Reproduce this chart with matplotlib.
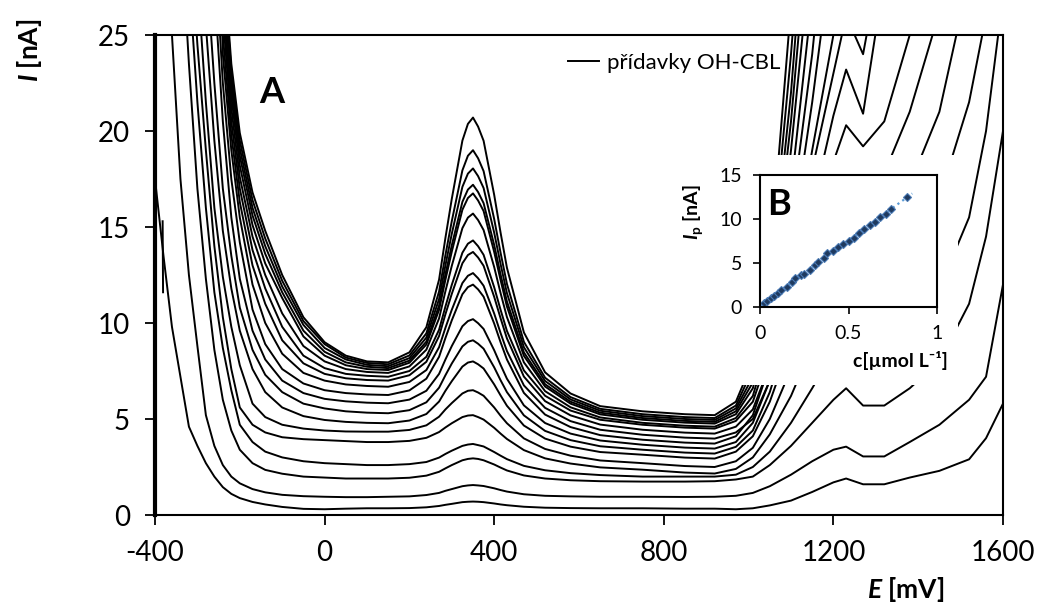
import numpy as np
import matplotlib
matplotlib.use('Agg')
import matplotlib.pyplot as plt
from matplotlib.patches import Rectangle

plt.rcParams['font.family'] = ['Lato', 'DejaVu Sans']
plt.rcParams['axes.unicode_minus'] = False
plt.rcParams['mathtext.fontset'] = 'custom'
plt.rcParams['mathtext.rm'] = 'Lato'
plt.rcParams['mathtext.it'] = 'Lato:italic'
plt.rcParams['mathtext.bf'] = 'Lato:bold'
plt.rcParams['mathtext.bfit'] = 'Lato:italic:bold'

OFF = 40.0  # above the y range, clipped away

# potential [mV] at which the scans were read
E = [-400, -380, -360, -340, -320, -300, -280, -260, -240, -220,
     -200, -170, -140, -100, -50, 0, 50, 100, 150, 200,
     240, 270, 285, 300, 325, 338, 350, 362, 375, 400, 415, 430, 470, 520,
     580, 650, 750, 850, 920, 970, 1010, 1050, 1100, 1150,
     1200, 1230, 1270, 1320, 1380, 1450, 1520, 1560, 1600]

# current [nA], blank first, then the OH-CBL additions
scan_00 = [17.5, 13.5, 9.8, 7.2, 4.6, 3.6, 2.7, 2.0, 1.45, 1.1,
           0.88, 0.68, 0.55, 0.42, 0.32, 0.30, 0.33, 0.35, 0.35, 0.36,
           0.40, 0.47, 0.53, 0.58, 0.67, 0.69, 0.70, 0.69, 0.67, 0.60, 0.55, 0.51, 0.43, 0.38,
           0.36, 0.35, 0.35, 0.33, 0.33, 0.30, 0.35, 0.50, 0.75, 1.2,
           1.7, 1.9, 1.6, 1.6, 1.95, 2.3, 2.9, 4.0, 5.8]
scan_01 = [OFF, 33, 25, 17.5, 12.5, 8.8, 5.2, 3.6, 2.6, 2.0,
           1.65, 1.35, 1.18, 1.05, 0.98, 0.95, 0.93, 0.93, 0.95, 0.97,
           1.04, 1.15, 1.26, 1.35, 1.5, 1.54, 1.56, 1.54, 1.51, 1.39, 1.30, 1.22, 1.08, 1.0,
           0.97, 0.95, 0.95, 0.94, 0.95, 1.0, 1.15, 1.5, 2.1, 2.8,
           3.4, 3.56, 3.05, 3.05, 3.8, 4.7, 6.0, 7.2, 12.0]
scan_02 = [OFF, OFF, OFF, 31, 23.5, 17, 12.3, 8.6, 6.0, 4.4,
           3.4, 2.7, 2.35, 2.15, 2.0, 1.95, 1.9, 1.9, 1.9, 1.94,
           2.05, 2.25, 2.43, 2.6, 2.85, 2.92, 2.95, 2.92, 2.85, 2.63, 2.47, 2.32, 2.06, 1.9,
           1.81, 1.76, 1.74, 1.74, 1.76, 1.85, 2.0, 2.6, 3.6, 4.8,
           6.0, 6.6, 5.7, 5.7, 6.6, 8.0, 11.0, 14.5, 20.0]
scan_03 = [OFF, OFF, OFF, OFF, 28, 21.5, 16, 11.6, 8.7, 6.5,
           4.7, 3.8, 3.3, 3.0, 2.8, 2.7, 2.65, 2.6, 2.6, 2.65,
           2.76, 2.99, 3.18, 3.35, 3.6, 3.67, 3.7, 3.64, 3.57, 3.28, 3.09, 2.91, 2.56, 2.33,
           2.18, 2.08, 2.0, 2.0, 2.0, 2.1, 2.5, 3.3, 4.8, 6.6,
           8.5, 9.2, 8.4, 8.5, 9.8, 11.8, 15.5, 20.0, 27.0]
scan_04 = [OFF, OFF, OFF, OFF, 31, 24.5, 19, 14, 10.3, 7.6,
           5.6, 4.7, 4.3, 4.05, 3.95, 3.9, 3.85, 3.8, 3.8, 3.86,
           4.02, 4.32, 4.56, 4.78, 5.1, 5.18, 5.2, 5.1, 4.97, 4.54, 4.24, 3.96, 3.38, 2.95,
           2.68, 2.48, 2.36, 2.21, 2.16, 2.4, 3.0, 4.2, 6.2, 8.8,
           11.3, 12.2, 11.4, 11.8, 13.5, 16.5, 21.5, 26.0, OFF]
scan_05 = [OFF, OFF, OFF, OFF, OFF, 28, 21.5, 16, 12.4, 9.8,
           7.8, 5.8, 5.1, 4.7, 4.5, 4.4, 4.35, 4.34, 4.34, 4.43,
           4.67, 5.12, 5.5, 5.83, 6.33, 6.47, 6.5, 6.38, 6.21, 5.6, 5.17, 4.78, 3.99, 3.44,
           3.09, 2.84, 2.7, 2.55, 2.5, 2.8, 3.5, 5.0, 7.6, 10.8,
           13.8, 15.0, 14.2, 14.8, 17.2, 21.0, 28.0, OFF, OFF]
scan_06 = [OFF, OFF, OFF, OFF, OFF, OFF, 25.5, 19.5, 14.8, 11.8,
           9.6, 7.6, 6.4, 5.6, 5.15, 4.95, 4.85, 4.8, 4.78, 4.92,
           5.26, 5.91, 6.47, 6.97, 7.73, 7.94, 8.0, 7.85, 7.63, 6.8, 6.23, 5.69, 4.66, 3.98,
           3.56, 3.28, 3.14, 2.99, 2.94, 3.3, 4.1, 5.9, 9.0, 12.8,
           16.3, 17.8, 17.0, 17.8, 21.0, 26.2, OFF, OFF, OFF]
scan_07 = [OFF, OFF, OFF, OFF, OFF, OFF, 29, 22.5, 17, 13.5,
           10.8, 8.6, 7.3, 6.4, 5.8, 5.55, 5.4, 5.33, 5.3, 5.46,
           5.87, 6.63, 7.28, 7.89, 8.78, 9.02, 9.1, 8.92, 8.66, 7.69, 7.02, 6.4, 5.19, 4.38,
           3.9, 3.58, 3.4, 3.25, 3.2, 3.55, 4.4, 6.4, 10.0, 14.3,
           18.4, 20.3, 19.2, 20.5, 25.0, 31.0, OFF, OFF, OFF]
scan_08 = [OFF, OFF, OFF, OFF, OFF, OFF, OFF, 27.5, 20.5, 15.5,
           12.3, 9.6, 8.1, 7.0, 6.35, 6.05, 5.92, 5.85, 5.82, 6.01,
           6.47, 7.35, 8.1, 8.8, 9.83, 10.1, 10.2, 9.99, 9.69, 8.58, 7.82, 7.1, 5.71, 4.79,
           4.24, 3.88, 3.66, 3.51, 3.46, 3.8, 4.8, 7.0, 11.2, 16.0,
           20.8, 23.2, 20.9, 28.0, OFF, OFF, OFF, OFF, OFF]
scan_09 = [OFF, OFF, OFF, OFF, OFF, OFF, OFF, 30, 22.5, 17.5,
           14.2, 10.7, 8.9, 7.6, 6.85, 6.5, 6.35, 6.28, 6.25, 6.49,
           7.1, 8.24, 9.22, 10.14, 11.5, 11.87, 12.0, 11.75, 11.37, 9.97, 9.0, 8.1, 6.36, 5.23,
           4.58, 4.16, 3.92, 3.77, 3.72, 4.1, 5.2, 7.8, 12.5, 18.0,
           23.0, 26.0, 24.0, 30.0, OFF, OFF, OFF, OFF, OFF]
scan_10 = [OFF, OFF, OFF, OFF, OFF, OFF, OFF, OFF, 24, 19,
           15.5, 12.0, 10.0, 8.4, 7.4, 7.0, 6.8, 6.72, 6.68, 6.93,
           7.55, 8.74, 9.75, 10.69, 12.08, 12.46, 12.6, 12.33, 11.94, 10.49, 9.48, 8.54, 6.75, 5.58,
           4.89, 4.44, 4.18, 4.03, 3.98, 4.3, 5.0, 7.0, 12.5, 19.0,
           25.0, 30.0, OFF, OFF, OFF, OFF, OFF, OFF, OFF]
scan_11 = [OFF, OFF, OFF, OFF, OFF, OFF, OFF, OFF, 25, 19.8,
           16.3, 13.0, 11.0, 9.1, 7.9, 7.35, 7.12, 7.03, 7.0, 7.28,
           7.98, 9.32, 10.46, 11.52, 13.11, 13.54, 13.7, 13.41, 12.98, 11.36, 10.25, 9.2, 7.21, 5.93,
           5.19, 4.71, 4.44, 4.29, 4.24, 4.6, 5.5, 7.8, 14.0, 21.5,
           30.0, OFF, OFF, OFF, OFF, OFF, OFF, OFF, OFF]
scan_12 = [OFF, OFF, OFF, OFF, OFF, OFF, OFF, OFF, 26, 20.5,
           17.0, 13.8, 11.8, 9.8, 8.3, 7.65, 7.35, 7.25, 7.2, 7.5,
           8.24, 9.65, 10.86, 11.99, 13.66, 14.13, 14.3, 14.0, 13.55, 11.86, 10.69, 9.59, 7.53, 6.21,
           5.44, 4.96, 4.7, 4.55, 4.5, 4.9, 5.9, 8.5, 15.5, 24.0,
           35.0, OFF, OFF, OFF, OFF, OFF, OFF, OFF, OFF]
scan_13 = [OFF, OFF, OFF, OFF, OFF, OFF, OFF, OFF, 26.8, 21.2,
           17.6, 14.5, 12.5, 10.5, 8.8, 8.0, 7.6, 7.45, 7.4, 7.74,
           8.61, 10.24, 11.66, 12.98, 14.94, 15.49, 15.7, 15.36, 14.84, 12.91, 11.56, 10.31, 7.95, 6.45,
           5.61, 5.08, 4.8, 4.65, 4.6, 5.05, 6.2, 9.2, 17.0, 27.0,
           OFF, OFF, OFF, OFF, OFF, OFF, OFF, OFF, OFF]
scan_14 = [OFF, OFF, OFF, OFF, OFF, OFF, OFF, OFF, 27.5, 21.8,
           18.2, 15.1, 13.1, 11.3, 9.3, 8.3, 7.8, 7.6, 7.55, 7.93,
           8.88, 10.69, 12.26, 13.72, 15.9, 16.51, 16.75, 16.38, 15.83, 13.7, 12.24, 10.86, 8.29, 6.69,
           5.8, 5.24, 4.96, 4.81, 4.76, 5.25, 6.6, 10.0, 19.0, 30.0,
           OFF, OFF, OFF, OFF, OFF, OFF, OFF, OFF, OFF]
scan_15 = [OFF, OFF, OFF, OFF, OFF, OFF, OFF, OFF, 28, 22.3,
           18.7, 15.6, 13.6, 11.6, 9.6, 8.5, 7.95, 7.72, 7.65, 8.04,
           9.03, 10.91, 12.54, 14.05, 16.31, 16.95, 17.2, 16.82, 16.24, 14.06, 12.53, 11.12, 8.47, 6.81,
           5.9, 5.33, 5.05, 4.9, 4.85, 5.4, 6.9, 10.7, 20.5, 33.0,
           OFF, OFF, OFF, OFF, OFF, OFF, OFF, OFF, OFF]
scan_16 = [OFF, OFF, OFF, OFF, OFF, OFF, OFF, OFF, 28.5, 22.7,
           19.1, 16.0, 14.0, 11.9, 9.9, 8.7, 8.1, 7.82, 7.75, 8.17,
           9.24, 11.25, 13.01, 14.65, 17.09, 17.78, 18.05, 17.65, 17.03, 14.7, 13.07, 11.56, 8.74, 6.98,
           6.02, 5.43, 5.15, 5.0, 4.95, 5.55, 7.2, 11.4, 22.0, 36.0,
           OFF, OFF, OFF, OFF, OFF, OFF, OFF, OFF, OFF]
scan_17 = [OFF, OFF, OFF, OFF, OFF, OFF, OFF, OFF, 29, 23.1,
           19.5, 16.4, 14.4, 12.2, 10.1, 8.9, 8.2, 7.92, 7.85, 8.31,
           9.46, 11.64, 13.54, 15.31, 17.95, 18.71, 19.0, 18.58, 17.91, 15.41, 13.66, 12.04, 9.02, 7.15,
           6.14, 5.53, 5.25, 5.1, 5.05, 5.7, 7.6, 12.2, 24.0, 38.0,
           OFF, OFF, OFF, OFF, OFF, OFF, OFF, OFF, OFF]
scan_18 = [OFF, OFF, OFF, OFF, OFF, OFF, OFF, OFF, 29.5, 23.5,
           19.9, 16.8, 14.8, 12.5, 10.3, 9.0, 8.3, 8.0, 7.95, 8.47,
           9.78, 12.26, 14.44, 16.47, 19.5, 20.37, 20.7, 20.23, 19.49, 16.67, 14.71, 12.88, 9.51, 7.43,
           6.33, 5.67, 5.4, 5.25, 5.2, 5.9, 8.0, 13.0, 26.5, OFF,
           OFF, OFF, OFF, OFF, OFF, OFF, OFF, OFF, OFF]

scans = [scan_00, scan_01, scan_02, scan_03, scan_04, scan_05, scan_06,
         scan_07, scan_08, scan_09, scan_10, scan_11, scan_12, scan_13,
         scan_14, scan_15, scan_16, scan_17, scan_18]

# short spike near the start of one scan
spike_E = [-382, -381]
spike_I = [15.3, 11.6]

# inset B: calibration
conc = [0.02, 0.04, 0.06, 0.08, 0.10, 0.12, 0.15, 0.18, 0.20, 0.23,
        0.25, 0.28, 0.31, 0.33, 0.36, 0.38, 0.41, 0.44, 0.47, 0.50,
        0.53, 0.56, 0.59, 0.62, 0.65, 0.68, 0.71, 0.74, 0.83]
ip = [0.4, 0.7, 1.0, 1.3, 1.6, 1.9, 2.3, 2.8, 3.3, 3.6,
      3.8, 4.2, 4.8, 5.1, 5.6, 6.1, 6.4, 6.8, 7.2, 7.5,
      7.8, 8.4, 8.9, 9.3, 9.7, 10.2, 10.6, 11.1, 12.5]

W, H = 1039, 607
fig = plt.figure(figsize=(W / 100, H / 100), dpi=100)
ax = fig.add_axes([155 / W, 1 - 515 / H, 848 / W, 480 / H])

lines = []
for s in scans:
    ln, = ax.plot(E, s, color='black', lw=1.4, solid_joinstyle='round')
    lines.append(ln)
ax.plot(spike_E, spike_I, color='black', lw=1.4)

ax.set_xlim(-400, 1600)
ax.set_ylim(0, 25)
ax.set_xticks([-400, 0, 400, 800, 1200, 1600])
ax.set_yticks([0, 5, 10, 15, 20, 25])
ax.tick_params(direction='out', length=7, width=1.3, labelsize=20, pad=11)
for side in ['top', 'right', 'bottom']:
    ax.spines[side].set_linewidth(1.5)
ax.spines['left'].set_linewidth(3)

ax.text(-124, 22, 'A', fontsize=26, fontweight='bold', ha='center', va='center')
ax.legend([lines[0]], ['přídavky OH-CBL'], loc='center left',
          bbox_to_anchor=(0.487, 0.9417), frameon=False, fontsize=16,
          handlelength=1.4, handletextpad=0.35, borderpad=0, borderaxespad=0)

fig.text(30 / W, 1 - 50 / H, r'$\mathbfit{I}$ [nA]', rotation=90,
         ha='center', va='center', fontsize=19, fontweight='bold')
fig.text(906 / W, 1 - 590 / H, r'$\mathbfit{E}$ [mV]',
         ha='center', va='center', fontsize=19, fontweight='bold')

# white area behind the inset
fig.add_artist(Rectangle((680 / W, 1 - 385 / H), 278 / W, 230 / H,
                         transform=fig.transFigure, facecolor='white',
                         edgecolor='none', zorder=1))

axin = fig.add_axes([760 / W, 1 - 307 / H, 177 / W, 132 / H])
axin.set_zorder(2)
k, b = np.polyfit(conc, ip, 1)
xfit = np.array([0, 0.86])
axin.plot(xfit, k * xfit + b, ls=':', color='#5b9bd5', lw=1.6)
axin.plot(conc, ip, 'D', ms=4.5, mfc='#1f3a5f', mec='#4a7ab5', mew=0.8)
axin.set_xlim(0, 1)
axin.set_ylim(0, 15)
axin.set_xticks([0, 0.5, 1])
axin.set_xticklabels(['0', '0.5', '1'])
axin.set_yticks([0, 5, 10, 15])
axin.tick_params(direction='out', length=5, width=1.2, labelsize=14, pad=8)
for side in axin.spines:
    axin.spines[side].set_linewidth(1.5)
axin.text(0.11, 11.6, 'B', fontsize=26, fontweight='bold', ha='center', va='center')

fig.text(693 / W, 1 - 212 / H, r'$\mathbfit{I}_\mathbf{p}$ [nA]', rotation=90,
         ha='center', va='center', fontsize=14, fontweight='bold')
fig.text(948 / W, 1 - 360 / H, 'c[µmol L⁻¹]', ha='right', va='center',
         fontsize=14, fontweight='bold')

fig.savefig('out.png', dpi=100)
